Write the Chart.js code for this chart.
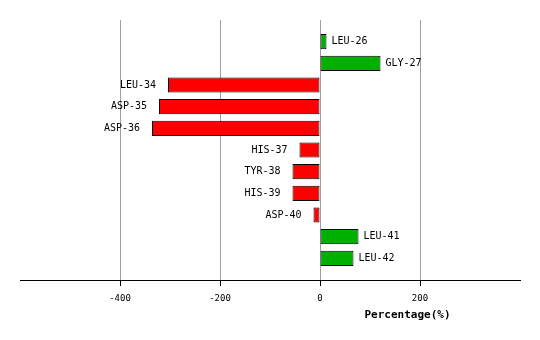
<!DOCTYPE html>
<html><head><meta charset="utf-8">
<script src="https://cdn.jsdelivr.net/npm/chart.js@4/dist/chart.umd.min.js"></script>
<style>html,body{margin:0;padding:0;background:#fff}#wrap{width:540px;height:340px}</style>
</head><body><div id="wrap"><canvas id="c" width="540" height="340"></canvas></div>
<script>
const residues = ['LEU-26','GLY-27','LEU-34','ASP-35','ASP-36','HIS-37','TYR-38','HIS-39','ASP-40','LEU-41','LEU-42'];
const percentages = [13, 121, -304, -322, -336, -41, -55, -55, -13, 77, 67];
const xTicks = [-400, -200, 0, 200];
const axisTitle = 'Percentage(%)';

const points = percentages.map((v, i) => ({x: v, y: i}));
const colors = percentages.map(v => v >= 0 ? '#00b000' : '#ff0000');

const labelPlugin = {
  id: 'barLabels',
  afterDatasetsDraw(chart) {
    const ctx = chart.ctx;
    const meta = chart.getDatasetMeta(0);
    ctx.save();
    ctx.font = '10px "DejaVu Sans Mono", monospace';
    ctx.fillStyle = '#000';
    ctx.textBaseline = 'middle';
    meta.data.forEach((bar, i) => {
      const v = percentages[i];
      if (v >= 0) { ctx.textAlign = 'left'; ctx.fillText(residues[i], bar.x + 5, bar.y); }
      else { ctx.textAlign = 'right'; ctx.fillText(residues[i], bar.x - 12, bar.y); }
    });
    ctx.font = 'bold 11px "DejaVu Sans Mono", monospace';
    ctx.textAlign = 'center';
    ctx.fillText(axisTitle, chart.scales.x.getPixelForValue(175), 315);
    ctx.restore();
  }
};

new Chart(document.getElementById('c'), {
  type: 'bar',
  data: {
    datasets: [{
      data: points,
      backgroundColor: colors,
      borderColor: '#000',
      borderWidth: 1,
      borderSkipped: false,
      barPercentage: 0.7,
      categoryPercentage: 1
    }]
  },
  options: {
    indexAxis: 'y',
    responsive: false,
    animation: false,
    devicePixelRatio: 1,
    layout: {padding: {left: 20, right: 20, top: 20, bottom: 0}},
    plugins: {legend: {display: false}, tooltip: {enabled: false}},
    scales: {
      y: {
        type: 'linear', min: -1, max: 11, reverse: true, display: false,
        offset: false, grid: {offset: false}
      },
      x: {
        type: 'linear', min: -600, max: 400,
        afterBuildTicks(scale) { scale.ticks = xTicks.map(v => ({value: v})); },
        afterFit(scale) { scale.height = 60; },
        grid: {color: '#a0a0a0', tickColor: '#000', tickLength: 6, lineWidth: 1},
        border: {color: '#000', width: 1},
        ticks: {color: '#000', padding: 7, font: {family: '"DejaVu Sans Mono", monospace', size: 9}, maxRotation: 0}
      }
    }
  },
  plugins: [labelPlugin]
});
</script>
</body></html>
